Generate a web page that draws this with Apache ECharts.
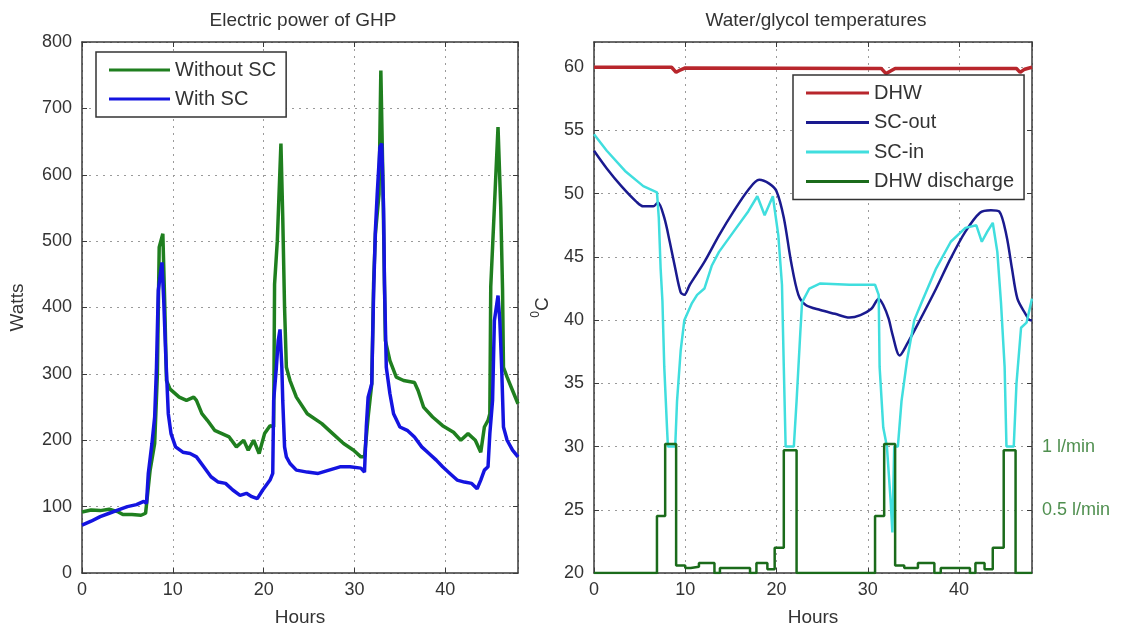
<!DOCTYPE html>
<html>
<head>
<meta charset="utf-8">
<script src="https://cdn.jsdelivr.net/npm/echarts@6/dist/echarts.min.js"></script>
<style>
html,body{margin:0;padding:0;background:#fff;}
#chart{width:1127px;height:633px;}
</style>
</head>
<body>
<div id="chart"></div>
<script>
// ---------- Left panel: Electric power of GHP ----------
const withoutScHours = [0,1,2,3,4,4.5,5.5,6.5,7.0,7.5,8.0,8.3,8.5,8.9,9.1,9.3,9.7,10.7,11.5,12.3,12.6,13.2,13.8,14.6,15.4,16.2,17.0,17.8,18.3,18.9,19.5,20.1,20.7,21.1,21.2,21.5,21.9,22.1,22.3,22.5,22.9,23.6,24.8,26.4,27.6,28.8,29.9,30.7,31.1,31.5,31.9,32.1,32.3,32.7,32.9,33.1,33.3,33.4,33.9,34.6,35.4,36.6,37.0,37.6,38.6,39.7,40.9,41.7,42.5,43.3,43.9,44.3,44.7,44.9,45.0,45.4,45.8,46.1,46.3,46.4,46.8,47.4,48];
const withoutScWatts = [92,95,94,96,92,88,88,87,90,155,195,300,491,511,410,290,277,265,260,265,260,240,230,215,210,205,190,200,185,200,180,210,222,220,435,500,647,536,400,310,290,265,240,225,210,195,185,175,175,235,285,435,511,571,757,612,435,350,320,295,290,287,275,250,235,222,212,200,210,200,182,220,230,240,431,551,672,551,426,310,295,275,255];

const withScHours = [0,1,2,3,4,5,6,6.8,7.1,7.3,7.7,8.0,8.2,8.4,8.8,9.0,9.2,9.5,9.8,10.3,11.1,11.9,12.6,13.4,14.2,15.0,15.8,16.6,17.4,18.1,18.7,19.3,19.9,20.7,21.0,21.1,21.4,21.6,21.8,22.0,22.1,22.3,22.5,22.9,23.6,24.8,26.0,27.2,28.4,29.5,30.7,31.1,31.3,31.5,31.9,32.1,32.3,32.5,32.8,33.0,33.2,33.3,33.5,33.9,34.3,35.0,35.8,36.6,37.4,38.2,39.0,39.7,40.5,41.3,42.1,42.9,43.5,43.9,44.3,44.7,44.9,45.2,45.4,45.8,46.0,46.2,46.4,46.8,47.4,48];
const withScWatts = [72,78,85,90,95,100,103,108,105,150,195,235,310,426,468,410,335,240,210,190,182,180,175,160,145,137,135,125,117,120,115,112,125,140,150,260,310,350,367,310,260,190,175,165,155,152,150,155,160,160,158,152,220,265,285,420,516,571,642,647,551,435,310,270,240,220,215,205,190,180,170,160,150,140,137,135,127,140,155,160,210,260,380,418,380,310,220,200,185,175];

const powerTicks = [0,100,200,300,400,500,600,700,800];
const hourTicks = [0,10,20,30,40];

// ---------- Right panel: Water/glycol temperatures ----------
const dhwHours = [0,8.5,9,9.5,10,31.5,32,32.5,33,46.3,46.7,47.2,48];
const dhwTemp  = [60,60,59.6,59.8,59.95,59.9,59.5,59.7,59.9,59.9,59.6,59.85,60];

const scOutHours = [0,1.4,3.0,4.6,5.4,6.5,7.0,7.7,8.3,8.9,9.5,9.9,10.5,12.1,13.7,15.3,16.9,18.1,19.2,20.0,20.8,21.6,22.4,23.2,24.8,26.4,28.0,29.2,30.4,31.2,31.7,32.3,32.7,33.5,34.3,35.5,37.5,39.1,40.7,42.3,43.5,44.4,45.2,45.8,46.4,47.2,47.8,48];
const scOutTemp  = [53.4,52.0,50.6,49.4,49.0,49.0,49.3,48.1,46.2,44.1,42.2,42.0,42.8,44.6,46.7,48.6,50.3,51.1,50.8,50.2,48.1,44.6,42.0,41.2,40.8,40.5,40.2,40.4,40.9,41.7,41.2,40.1,38.9,37.2,38.1,39.7,42.5,44.9,47.0,48.5,48.7,48.6,46.7,44.1,41.7,40.6,40.0,40.0];

const scInHours = [0,1.4,3.4,5.4,6.9,7.1,7.3,7.5,7.7,8.0,8.1,8.9,9.1,9.5,9.9,10.7,11.3,12.1,12.9,13.7,15.3,16.9,17.9,18.7,19.6,20.2,20.6,20.8,21.0,21.9,22.2,22.6,22.8,23.6,24.8,28.0,30.8,31.2,31.3,31.7,32.1,32.5,32.7,32.9,33.3,33.7,34.3,35.1,35.9,37.5,39.1,40.7,41.9,42.5,43.1,43.7,44.2,44.6,45.0,45.2,46.0,46.3,46.8,47.4,48];
const scInTemp  = [54.7,53.4,51.8,50.6,50.1,48.1,44.1,41.5,36.3,31.5,30,30,33.6,37.6,40,41.3,42.0,42.5,44.3,45.4,47.0,48.6,49.8,48.3,49.8,46.7,42.8,36.3,30,30,33.6,38.9,41.4,42.5,42.9,42.8,42.8,42.0,36.3,31.5,30,25.8,23.2,30,30,33.6,36.8,40,41.4,44.1,46.2,47.3,47.5,46.2,47.0,47.7,45.4,41.4,36.3,30,30,35,39.4,39.8,41.7];

// DHW discharge: step function (value holds from this hour until the next)
const dischargeHours = [0,6.9,7.8,9.0,10.0,10.6,11.5,13.2,13.8,17.1,17.8,19.0,19.8,20.8,22.2,30.8,31.8,33.0,34.0,35.5,37.3,38.0,41.2,41.8,42.8,43.7,44.9,46.2,48];
const dischargeTemp  = [20,24.5,30.2,20.6,20.4,20.5,20.8,20.0,20.4,20.0,20.8,20.3,22.0,29.7,20.0,24.5,30.2,20.6,20.4,20.8,20.0,20.4,20.0,20.8,20.3,22.0,29.7,20.0,20.0];

const tempTicks = [20,25,30,35,40,45,50,55,60];
const flowTickValues = [25,30];
const flowTickLabels = ['0.5 l/min','1 l/min'];

const pairs = (xs, ys) => xs.map((x, i) => [x, ys[i]]);

const FONT = '"Liberation Sans", Arial, sans-serif';
const TXT = '#333';
const AX = '#3a3a3a';
const GRIDC = '#9a9a9a';

function xAxisMain(gi) {
  return {
    type: 'value', gridIndex: gi, min: 0, max: 48, interval: 10, position: 'bottom',
    name: 'Hours', nameLocation: 'middle', nameGap: 35,
    nameTextStyle: {fontFamily: FONT, fontSize: 19, color: TXT},
    axisLine: {show: true, onZero: false, lineStyle: {color: AX, width: 1.5}},
    axisTick: {show: true, inside: true, length: 5, lineStyle: {color: AX}},
    axisLabel: {fontFamily: FONT, fontSize: 18, color: TXT, margin: 8, showMaxLabel: false,
      formatter: v => hourTicks.includes(v) ? String(v) : ''},
    splitLine: {show: true, lineStyle: {color: GRIDC, type: [2, 5], width: 1}}
  };
}
function xAxisTop(gi) {
  return {
    type: 'value', gridIndex: gi, min: 0, max: 48, interval: 10, position: 'top',
    axisLine: {show: true, onZero: false, lineStyle: {color: AX, width: 1.5}},
    axisTick: {show: true, inside: true, length: 5, lineStyle: {color: AX}},
    axisLabel: {show: false}, splitLine: {show: false}
  };
}

const option = {
  animation: false,
  backgroundColor: '#fff',
  title: [
    {text: 'Electric power of GHP', left: 298, top: 6, textAlign: 'center',
     textStyle: {fontFamily: FONT, fontSize: 19, fontWeight: 'normal', color: TXT}},
    {text: 'Water/glycol temperatures', left: 811, top: 6, textAlign: 'center',
     textStyle: {fontFamily: FONT, fontSize: 19, fontWeight: 'normal', color: TXT}}
  ],
  grid: [
    {left: 82, top: 42, width: 436, height: 531},
    {left: 594, top: 42, width: 438, height: 531}
  ],
  legend: [
    {
      data: ['Without SC', 'With SC'], orient: 'vertical', left: 96, top: 52,
      padding: [8, 10, 8, 13], itemGap: 9, itemWidth: 61, itemHeight: 3, icon: 'rect',
      borderColor: '#333', borderWidth: 1.5, backgroundColor: '#fff', borderRadius: 0,
      textStyle: {fontFamily: FONT, fontSize: 20, color: TXT, lineHeight: 20}
    },
    {
      data: ['DHW', 'SC-out', 'SC-in', 'DHW discharge'], orient: 'vertical', left: 793, top: 75,
      padding: [8, 10, 8, 13], itemGap: 9.5, itemWidth: 63, itemHeight: 3, icon: 'rect',
      borderColor: '#333', borderWidth: 1.5, backgroundColor: '#fff', borderRadius: 0,
      textStyle: {fontFamily: FONT, fontSize: 20, color: TXT, lineHeight: 20}
    }
  ],
  xAxis: [xAxisMain(0), xAxisTop(0), xAxisMain(1), xAxisTop(1)],
  yAxis: [
    {
      type: 'value', gridIndex: 0, min: 0, max: 800, interval: 100, position: 'left',
      name: 'Watts', nameLocation: 'middle', nameGap: 55, nameRotate: 90,
      nameTextStyle: {fontFamily: FONT, fontSize: 19, color: TXT},
      axisLine: {show: true, onZero: false, lineStyle: {color: AX, width: 1.5}},
      axisTick: {show: true, inside: true, length: 5, lineStyle: {color: AX}},
      axisLabel: {fontFamily: FONT, fontSize: 18, color: TXT, margin: 10,
        formatter: v => powerTicks.includes(v) ? String(v) : ''},
      splitLine: {show: true, lineStyle: {color: GRIDC, type: [2, 5], width: 1}}
    },
    {
      type: 'value', gridIndex: 0, min: 0, max: 800, interval: 100, position: 'right',
      axisLine: {show: true, onZero: false, lineStyle: {color: AX, width: 1.5}},
      axisTick: {show: true, inside: true, length: 5, lineStyle: {color: AX}},
      axisLabel: {show: false}, splitLine: {show: false}
    },
    {
      type: 'value', gridIndex: 1, min: 20, max: 62, interval: 5, position: 'left',
      name: '{s|0}{n|C}', nameLocation: 'middle', nameGap: 42, nameRotate: 90,
      nameTextStyle: {fontFamily: FONT, fontSize: 19, color: TXT,
        rich: {s: {fontFamily: FONT, fontSize: 12, color: TXT, verticalAlign: 'top', lineHeight: 22},
               n: {fontFamily: FONT, fontSize: 19, color: TXT, verticalAlign: 'bottom', lineHeight: 22}}},
      axisLine: {show: true, onZero: false, lineStyle: {color: AX, width: 1.5}},
      axisTick: {show: true, inside: true, length: 5, lineStyle: {color: AX}},
      axisLabel: {fontFamily: FONT, fontSize: 18, color: TXT, margin: 10, showMaxLabel: false,
        formatter: v => tempTicks.includes(v) ? String(v) : ''},
      splitLine: {show: true, lineStyle: {color: GRIDC, type: [2, 5], width: 1}}
    },
    {
      type: 'value', gridIndex: 1, min: 20, max: 62, interval: 5, position: 'right',
      axisLine: {show: true, onZero: false, lineStyle: {color: AX, width: 1.5}},
      axisTick: {show: true, inside: true, length: 5, lineStyle: {color: AX}},
      axisLabel: {show: true, fontFamily: FONT, fontSize: 18, color: '#4f8f4f', margin: 10, showMaxLabel: false,
        formatter: v => { const i = flowTickValues.indexOf(v); return i >= 0 ? flowTickLabels[i] : ''; }},
      splitLine: {show: false}
    }
  ],
  series: [
    {name: 'Without SC', type: 'line', xAxisIndex: 0, yAxisIndex: 0, showSymbol: false,
     data: pairs(withoutScHours, withoutScWatts), color: '#1f7f1f', lineStyle: {width: 3.5, color: '#1f7f1f'}},
    {name: 'With SC', type: 'line', xAxisIndex: 0, yAxisIndex: 0, showSymbol: false,
     data: pairs(withScHours, withScWatts), color: '#1414e0', lineStyle: {width: 3.5, color: '#1414e0'}},
    {name: 'DHW', type: 'line', xAxisIndex: 2, yAxisIndex: 2, showSymbol: false,
     data: pairs(dhwHours, dhwTemp), color: '#b8262c', lineStyle: {width: 3.5, color: '#b8262c'}},
    {name: 'SC-out', type: 'line', xAxisIndex: 2, yAxisIndex: 2, showSymbol: false, smooth: 0.3,
     data: pairs(scOutHours, scOutTemp), color: '#1a1a8f', lineStyle: {width: 2.5, color: '#1a1a8f'}},
    {name: 'SC-in', type: 'line', xAxisIndex: 2, yAxisIndex: 2, showSymbol: false,
     data: pairs(scInHours, scInTemp), color: '#40dede', lineStyle: {width: 2.5, color: '#40dede'}},
    {name: 'DHW discharge', type: 'line', xAxisIndex: 2, yAxisIndex: 2, showSymbol: false, step: 'end',
     data: pairs(dischargeHours, dischargeTemp), color: '#1b6b1b', lineStyle: {width: 2.5, color: '#1b6b1b'}}
  ]
};

const chart = echarts.init(document.getElementById('chart'), null, {renderer: 'canvas'});
chart.setOption(option);
</script>
</body>
</html>
